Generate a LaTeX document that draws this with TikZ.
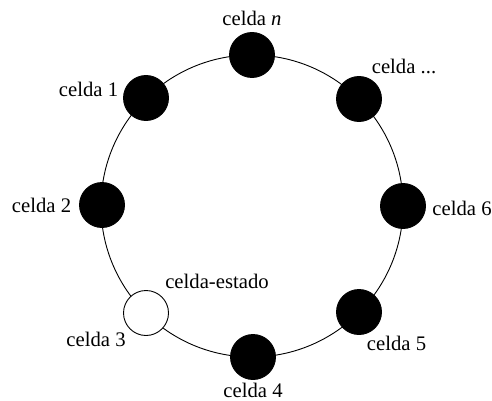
\documentclass[tikz,border=0pt]{standalone}
\usepackage{fontspec}
\setmainfont{Liberation Serif}
\begin{document}
\begin{tikzpicture}[x=1pt,y=-1pt,
  cell/.style={circle,draw=black,line width=0.9pt,fill=black,minimum size=45pt,inner sep=0pt},
  statecell/.style={cell,fill=white},
  lbl/.style={inner sep=0pt,font=\fontsize{20.7}{24}\selectfont},
  ring/.style={draw=black,line width=0.9pt}]
  \useasboundingbox (0,0) rectangle (492,401);
  \coordinate (c) at (252,206);
  % the ring
  \draw[ring] (c) circle[radius=151pt];
  % cells on the ring
  \node[cell] (cn) at (252,55) {};
  \node[cell] (cdots) at (359,99) {};
  \node[cell] (c6) at (403,206) {};
  \node[cell] (c5) at (359,312) {};
  \node[cell] (c4) at (253,357) {};
  \node[statecell] (c3) at (146,313) {};
  \node[cell] (c2) at (102,205) {};
  \node[cell] (c1) at (146,98) {};
  % labels
  \node[lbl] (ln) at (252,18.5) {celda \textit{n}};
  \node[lbl] (ldots) at (404,66.5) {celda ...};
  \node[lbl] (l6) at (462,208.5) {celda 6};
  \node[lbl] (l5) at (396.5,343) {celda 5};
  \node[lbl] (l4) at (253,390.5) {celda 4};
  \node[lbl] (l3) at (96,339) {celda 3};
  \node[lbl] (lst) at (217,281.5) {celda-estado};
  \node[lbl] (l2) at (41.5,205.5) {celda 2};
  \node[lbl] (l1) at (88.5,89) {celda 1};
\end{tikzpicture}
\end{document}
